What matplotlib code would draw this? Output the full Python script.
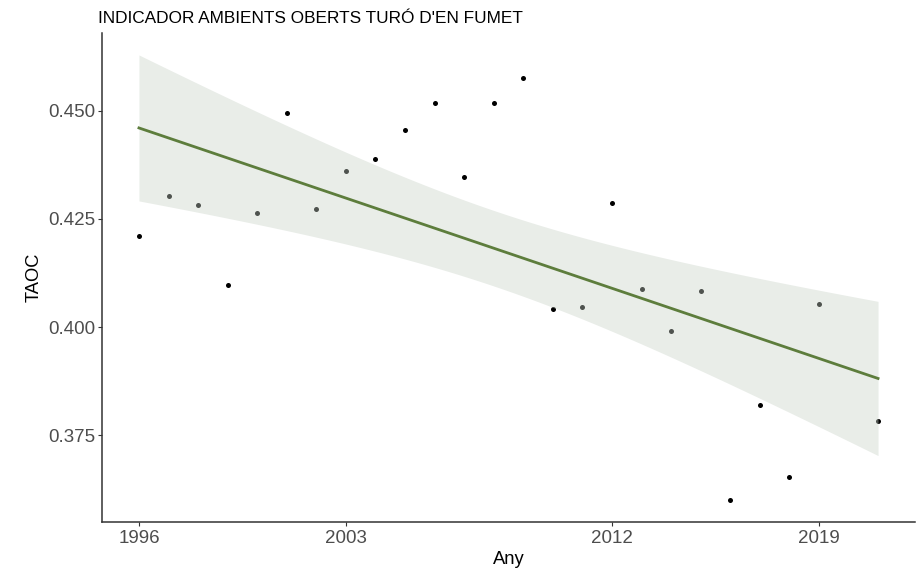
import numpy as np
import matplotlib
matplotlib.use('Agg')
import matplotlib.pyplot as plt

plt.rcParams['font.family'] = ['Liberation Sans', 'DejaVu Sans']

# dades llegides del grafic
anys = [1996, 1997, 1998, 1999, 2000, 2001, 2002, 2003, 2004, 2005, 2006, 2007, 2008,
        2009, 2010, 2011, 2012, 2013, 2014, 2015, 2016, 2017, 2018, 2019, 2021]
taoc = [0.4210, 0.4303, 0.4282, 0.4097, 0.4263, 0.4495, 0.4273, 0.4360, 0.4389,
        0.4456, 0.4517, 0.4347, 0.4518, 0.4574, 0.4042, 0.4047, 0.4287, 0.4089,
        0.3990, 0.4083, 0.3600, 0.3820, 0.3653, 0.4053, 0.3783]
x_ticks = [1996, 2003, 2012, 2019]
y_ticks = [0.375, 0.400, 0.425, 0.450]

x = np.array(anys, dtype=float)
y = np.array(taoc)

# ajust lineal amb interval de confianca del 95% (com geom_smooth(method='lm'))
n = len(x)
b, a = np.polyfit(x, y, 1)
xs = np.linspace(x.min(), x.max(), 200)
ys = a + b * xs
resid = y - (a + b * x)
s = np.sqrt(np.sum(resid ** 2) / (n - 2))
sxx = np.sum((x - x.mean()) ** 2)
se = s * np.sqrt(1.0 / n + (xs - x.mean()) ** 2 / sxx)
tval = 2.0687  # t(0.975, 23)
lo = ys - tval * se
hi = ys + tval * se

W, H = 917, 569
fig = plt.figure(figsize=(W / 100, H / 100), dpi=100)
ax = fig.add_axes([102 / W, 1 - 522 / H, (915 - 102) / W, (522 - 33) / H])

ax.scatter(x, y, s=13, color='black', zorder=2, linewidths=0)
ax.fill_between(xs, lo, hi, color='#c8d2c6', alpha=0.4, linewidth=0, zorder=3)
ax.plot(xs, ys, color='#5d7d3c', linewidth=2.0, zorder=4)

ax.set_xlim(1994.75, 2022.25)
ax.set_ylim(0.3550, 0.4679)
ax.set_xticks(x_ticks)
ax.set_xticklabels([str(t) for t in x_ticks])
ax.set_yticks(y_ticks)
ax.set_yticklabels(['%.3f' % t for t in y_ticks])

for side in ['top', 'right']:
    ax.spines[side].set_visible(False)
for side in ['left', 'bottom']:
    ax.spines[side].set_color('#333333')
    ax.spines[side].set_linewidth(1.1)
ax.tick_params(axis='both', length=3.2, width=0.8, color='#333333',
               labelcolor='#4d4d4d', labelsize=13.5)
ax.tick_params(axis='x', pad=2.5)
ax.tick_params(axis='y', pad=1.5)

ax.set_xlabel('Any', fontsize=13.2, color='black', labelpad=3)
ax.set_ylabel('TAOC', fontsize=13.2, color='black', labelpad=4)

fig.text(98 / W, 1 - 23 / H, "INDICADOR AMBIENTS OBERTS TURÓ D'EN FUMET",
         fontsize=12.4, color='black', ha='left', va='baseline')

fig.savefig('out.png', dpi=100)
